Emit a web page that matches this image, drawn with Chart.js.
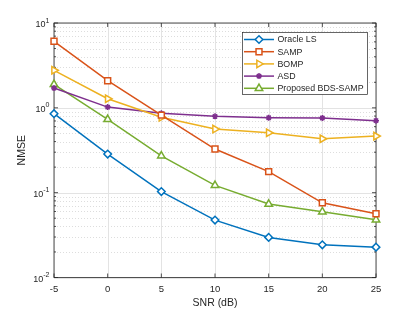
<!DOCTYPE html>
<html>
<head>
<meta charset="utf-8">
<script src="https://cdn.jsdelivr.net/npm/chart.js@4/dist/chart.umd.min.js"></script>
<style>
  html, body { margin: 0; padding: 0; background: #fff; }
  #wrap { width: 415px; height: 312px; }
</style>
</head>
<body>
<div id="wrap"><canvas id="c"></canvas></div>
<script>
// SNR points (dB) and NMSE per method
const snr = [-5, 0, 5, 10, 15, 20, 25];
const oracleLS = [0.853, 0.285, 0.103, 0.0475, 0.0297, 0.0243, 0.0228];
const samp = [6.08, 2.09, 0.82, 0.327, 0.177, 0.076, 0.0564];
const bomp = [2.77, 1.28, 0.773, 0.562, 0.508, 0.432, 0.464];
const asd = [1.71, 1.02, 0.861, 0.794, 0.764, 0.759, 0.705];
const proposed = [1.89, 0.731, 0.272, 0.122, 0.0734, 0.0596, 0.0479];
const yTickExp = [-2, -1, 0, 1];

const FONT = "'Liberation Sans', Arial, sans-serif";
const AXIS = "#262626";

function series(label, vals, color, style, radius, rotation) {
  return {
    label,
    data: snr.map((x, i) => ({ x, y: vals[i] })),
    borderColor: color,
    backgroundColor: color,
    borderWidth: 1.5,
    pointStyle: style,
    pointRadius: radius,
    pointRotation: rotation || 0,
    pointBorderWidth: 1.5,
    pointBorderColor: color,
    pointBackgroundColor: "#fff",
    tension: 0,
    clip: false
  };
}

const datasets = [
  series("Oracle LS", oracleLS, "#0072BD", "rectRot", 3.8),
  series("SAMP", samp, "#D95319", "rect", 4.2),
  series("BOMP", bomp, "#EDB120", "triangle", 4.3, 90),
  series("ASD", asd, "#7E2F8E", "star", 3),
  series("Proposed BDS-SAMP", proposed, "#77AC30", "triangle", 4.3)
];

const matlabAxes = {
  id: "matlabAxes",
  beforeDatasetsDraw(chart) {
    const { ctx, chartArea: a, scales: { x, y } } = chart;
    ctx.save();
    // minor log grid, dotted
    ctx.strokeStyle = "#cfcfcf";
    ctx.lineWidth = 0.7;
    ctx.setLineDash([1, 2]);
    for (let e = -2; e < 1; e++) {
      for (let m = 2; m <= 9; m++) {
        const py = Math.round(y.getPixelForValue(m * Math.pow(10, e))) + 0.5;
        ctx.beginPath(); ctx.moveTo(a.left, py); ctx.lineTo(a.right, py); ctx.stroke();
      }
    }
    ctx.setLineDash([]);
    ctx.strokeStyle = "#e3e3e3";
    ctx.lineWidth = 1;
    yTickExp.forEach(e => {
      const py = Math.round(y.getPixelForValue(Math.pow(10, e))) + 0.5;
      ctx.beginPath(); ctx.moveTo(a.left, py); ctx.lineTo(a.right, py); ctx.stroke();
    });
    x.ticks.forEach(t => {
      const px = Math.round(x.getPixelForValue(t.value)) + 0.5;
      ctx.beginPath(); ctx.moveTo(px, a.top); ctx.lineTo(px, a.bottom); ctx.stroke();
    });
    // box and inward ticks
    ctx.strokeStyle = AXIS;
    ctx.lineWidth = 0.8;
    ctx.strokeRect(a.left, a.top, a.right - a.left, a.bottom - a.top);
    ctx.beginPath();
    x.ticks.forEach(t => {
      const px = x.getPixelForValue(t.value);
      ctx.moveTo(px, a.bottom); ctx.lineTo(px, a.bottom - 4);
      ctx.moveTo(px, a.top); ctx.lineTo(px, a.top + 4);
    });
    for (let e = -2; e <= 1; e++) {
      const py = y.getPixelForValue(Math.pow(10, e));
      ctx.moveTo(a.left, py); ctx.lineTo(a.left + 4, py);
      ctx.moveTo(a.right, py); ctx.lineTo(a.right - 4, py);
      if (e < 1) {
        for (let m = 2; m <= 9; m++) {
          const pm = y.getPixelForValue(m * Math.pow(10, e));
          ctx.moveTo(a.left, pm); ctx.lineTo(a.left + 2, pm);
          ctx.moveTo(a.right, pm); ctx.lineTo(a.right - 2, pm);
        }
      }
    }
    ctx.stroke();
    // y tick labels 10^n
    ctx.fillStyle = AXIS;
    ctx.textBaseline = "alphabetic";
    yTickExp.forEach(e => {
      const py = y.getPixelForValue(Math.pow(10, e));
      const sup = String(e);
      ctx.font = "7px " + FONT;
      const sw = ctx.measureText(sup).width;
      const right = a.left - 4.5;
      ctx.textAlign = "right";
      ctx.fillText(sup, right, py - 0.5);
      ctx.font = "9px " + FONT;
      ctx.fillText("10", right - sw, py + 4);
    });
    ctx.restore();
  },
  afterDraw(chart) {
    const { ctx } = chart;
    const bx = 242.5, by = 32.5, bw = 125, bh = 62;
    ctx.save();
    ctx.fillStyle = "#fff";
    ctx.fillRect(bx, by, bw, bh);
    ctx.strokeStyle = AXIS;
    ctx.lineWidth = 0.7;
    ctx.strokeRect(bx, by, bw, bh);
    ctx.font = "8.8px " + FONT;
    ctx.textBaseline = "middle";
    ctx.textAlign = "left";
    chart.data.datasets.forEach((ds, i) => {
      const ry = 39.5 + i * 12.2;
      ctx.strokeStyle = ds.borderColor;
      ctx.lineWidth = 1.5;
      ctx.beginPath(); ctx.moveTo(244, ry); ctx.lineTo(274, ry); ctx.stroke();
      ctx.fillStyle = "#fff";
      Chart.helpers.drawPoint(ctx, {
        pointStyle: ds.pointStyle,
        radius: ds.pointRadius,
        rotation: ds.pointRotation,
        borderWidth: 1.5
      }, 259, ry);
      ctx.fillStyle = AXIS;
      ctx.fillText(ds.label, 277.5, ry + 0.5);
    });
    ctx.restore();
  }
};

new Chart(document.getElementById("c"), {
  type: "line",
  data: { datasets },
  options: {
    responsive: true,
    maintainAspectRatio: false,
    animation: false,
    layout: { padding: { top: 23, right: 39, left: 0, bottom: 0 } },
    plugins: { legend: { display: false }, tooltip: { enabled: false } },
    scales: {
      x: {
        type: "linear",
        min: -5, max: 25,
        grid: { display: false, drawTicks: false },
        border: { display: false },
        ticks: { stepSize: 5, color: AXIS, padding: 6.5, font: { family: FONT, size: 9.5 } },
        title: { display: true, text: "SNR (dB)", color: AXIS, font: { family: FONT, size: 10.5 }, padding: { top: 0, bottom: 2.4 } },
        afterFit: s => { s.height = 34.5; }
      },
      y: {
        type: "logarithmic",
        min: 0.01, max: 10,
        grid: { display: false, drawTicks: false },
        border: { display: false },
        ticks: { display: false },
        title: { display: true, text: "NMSE", color: AXIS, font: { family: FONT, size: 10.5 }, padding: { top: 15.8, bottom: 0 } },
        afterFit: s => { s.width = 54; }
      }
    }
  },
  plugins: [matlabAxes]
});
</script>
</body>
</html>
